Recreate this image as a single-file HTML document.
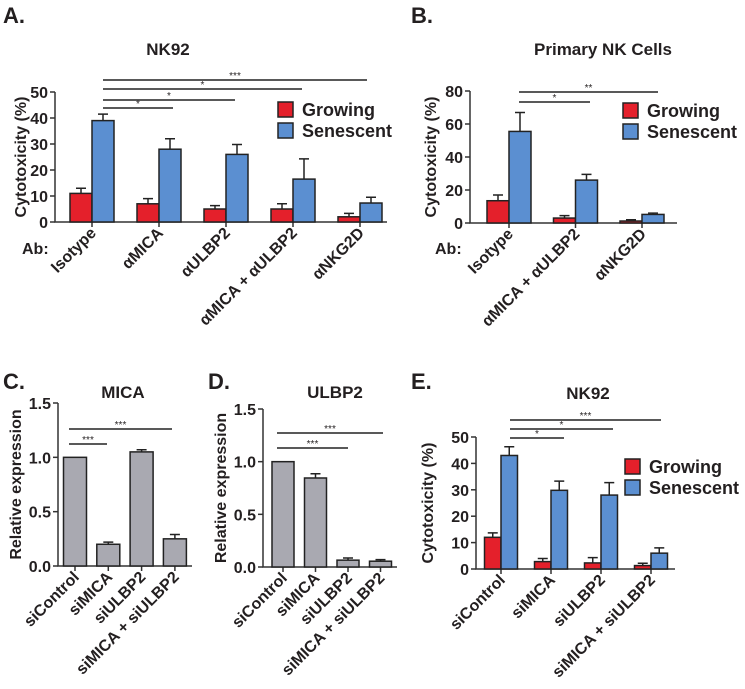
<!DOCTYPE html>
<html><head><meta charset="utf-8"><style>
body{margin:0;background:#fff}
svg{display:block;font-family:"Liberation Sans",Arial,sans-serif;font-weight:bold}
</style></head><body>
<svg id="fig" width="745" height="689" viewBox="0 0 745 689"></svg>
<script>
// Panel A data
const aCats = ["Isotype","\u03B1MICA","\u03B1ULBP2","\u03B1MICA + \u03B1ULBP2","\u03B1NKG2D"];
const aGrow = [11, 7, 5, 5, 2];
const aGrowErr = [13, 9, 6.3, 7, 3.3];
const aSen = [39, 28, 26, 16.5, 7.3];
const aSenErr = [41.5, 32, 29.8, 24.3, 9.5];
const aTicks = [0, 10, 20, 30, 40, 50];
// Panel B data
const bCats = ["Isotype","\u03B1MICA + \u03B1ULBP2","\u03B1NKG2D"];
const bGrow = [13.5, 3, 1.2];
const bGrowErr = [17, 4.5, 2];
const bSen = [55.5, 26, 5.2];
const bSenErr = [67, 29.5, 6];
const bTicks = [0, 20, 40, 60, 80];
// Panel C data
const cCats = ["siControl","siMICA","siULBP2","siMICA + siULBP2"];
const cVals = [1.0, 0.2, 1.05, 0.25];
const cErr = [1.0, 0.22, 1.07, 0.29];
// Panel D data
const dCats = ["siControl","siMICA","siULBP2","siMICA + siULBP2"];
const dVals = [1.0, 0.845, 0.065, 0.055];
const dErr = [1.0, 0.885, 0.085, 0.07];
const relTicks = [0, 0.5, 1.0, 1.5];
// Panel E data
const eCats = ["siControl","siMICA","siULBP2","siMICA + siULBP2"];
const eGrow = [12, 2.8, 2.3, 1.3];
const eGrowErr = [13.7, 4, 4.3, 2.2];
const eSen = [43, 29.8, 28, 6];
const eSenErr = [46.3, 33.3, 32.7, 8];
const eTicks = [0, 10, 20, 30, 40, 50];

const NS = "http://www.w3.org/2000/svg";
const svg = document.getElementById("fig");
const RED = "#e4202b", BLUE = "#5b8fd1", GRAY = "#a9a9b1";
function mk(tag, attrs, parent, text) {
  const e = document.createElementNS(NS, tag);
  for (const k in attrs) e.setAttribute(k, attrs[k]);
  if (text !== undefined) e.textContent = text;
  (parent || svg).appendChild(e);
  return e;
}
function txt(x, y, s, size, anchor, parent, rot) {
  const t = mk("text", {x: x, y: y, "font-size": size, "text-anchor": anchor || "start", fill: "#231f20"}, parent, s);
  if (rot) t.setAttribute("transform", "rotate(" + rot + " " + x + " " + y + ")");
  return t;
}

function panel(p) {
  const g = mk("g", {});
  
  
  const yS = v => p.y0 - v / p.ymax * (p.y0 - p.yTop);
  const L = txt(p.letterX, p.letterY, p.letter, 22, "start", g);
  
  
  const T = txt(p.titleX, p.titleY, p.title, 17, "middle", g);
  
  
  const yt = txt(p.ytX, (p.yTop + p.y0) / 2, p.ytitle, 16, "middle", g, -90);
  
  
  const ax = mk("path", {d: "M" + p.x0 + " " + p.yTop + "V" + p.y0 + "H" + p.xEnd, stroke: "#333", "stroke-width": 1.5, fill: "none"}, g);
  
  
  p.ticks.forEach(v => {
    mk("line", {x1: p.x0 - 5, x2: p.x0, y1: yS(v), y2: yS(v), stroke: "#333", "stroke-width": 1.5}, g);
    const tl = txt(p.x0 - 7, yS(v) + 6, p.fmt ? p.fmt(v) : String(v), 16, "end", g);
    
    
  });
  p.cats.forEach((c, i) => {
    const cx = p.c0 + i * p.step;
    mk("line", {x1: cx, x2: cx, y1: p.y0, y2: p.y0 + 5, stroke: "#333", "stroke-width": 1.5}, g);
    const lx = cx + 5, ly = p.y0 + 12;
    const xl = txt(lx, ly, c, 16, "end", g, -45);
    
    
    p.series.forEach((s, k) => {
      const x = p.series.length === 2 ? (k === 0 ? cx - p.w : cx) : cx - p.w / 2;
      const v = s.vals[i], e = s.err[i];
      const mx = x + p.w / 2;
      if (e > v) {
        const eb = mk("path", {d: "M" + mx + " " + yS(v) + "V" + yS(e) + "M" + (mx - 5) + " " + yS(e) + "H" + (mx + 5), stroke: "#222", "stroke-width": 1.5, fill: "none"}, g);
        
        
      }
      const r = mk("rect", {x: x, y: yS(v), width: p.w, height: p.y0 - yS(v), fill: s.color, stroke: "#222", "stroke-width": 1.5}, g);
      
      
    });
  });
  p.sig.forEach(s => {
    const sl = mk("line", {x1: s[0], x2: s[1], y1: s[2], y2: s[2], stroke: "#222", "stroke-width": 1.5}, g);
    
    
    const st = txt((s[0] + s[1]) / 2, s[2] - 1, s[3], 10, "middle", g);
    st.setAttribute('font-weight', 'normal');
    
    
  });
  if (p.legend) {
    const [lx, ly] = p.legend;
    const lg = mk("g", {}, g);
    
    
    mk("rect", {x: lx, y: ly, width: 15, height: 15, fill: RED, stroke: "#222", "stroke-width": 1.5}, lg);
    mk("rect", {x: lx, y: ly + 21, width: 15, height: 15, fill: BLUE, stroke: "#222", "stroke-width": 1.5}, lg);
    const g1 = txt(lx + 24, ly + 14, "Growing", 18, "start", lg);
    
    
    const g2 = txt(lx + 24, ly + 35, "Senescent", 18, "start", lg);
    
    
  }
  if (p.ab) {
    const ab = txt(p.ab[0], p.ab[1], "Ab:", 16, "start", g);
    
    
  }
}
const f1 = v => v.toFixed(1);

panel({name: "panel-a", letter: "A.", letterX: 3, letterY: 23, title: "NK92", titleX: 168, titleY: 55,
  ytitle: "Cytotoxicity (%)", ytX: 26, x0: 55, xEnd: 387, y0: 222, yTop: 92, ymax: 50, ticks: aTicks,
  cats: aCats, c0: 92, step: 67, w: 22,
  series: [{key: "growing", vals: aGrow, err: aGrowErr, color: RED}, {key: "senescent", vals: aSen, err: aSenErr, color: BLUE}],
  sig: [[103, 367, 80, "***"], [103, 302, 89, "*"], [103, 235, 100, "*"], [103, 173, 108, "*"]],
  legend: [278, 102], ab: [22, 254]});

panel({name: "panel-b", letter: "B.", letterX: 411, letterY: 23, title: "Primary NK Cells", titleX: 603, titleY: 55,
  ytitle: "Cytotoxicity (%)", ytX: 436, x0: 470, xEnd: 677, y0: 223, yTop: 91, ymax: 80, ticks: bTicks,
  cats: bCats, c0: 509, step: 66.5, w: 22,
  series: [{key: "growing", vals: bGrow, err: bGrowErr, color: RED}, {key: "senescent", vals: bSen, err: bSenErr, color: BLUE}],
  sig: [[519, 658, 92, "**"], [519, 590, 102, "*"]],
  legend: [623, 103], ab: [435, 254]});

panel({name: "panel-c", letter: "C.", letterX: 3, letterY: 389, title: "MICA", titleX: 123, titleY: 398,
  ytitle: "Relative expression", ytX: 21, x0: 58, xEnd: 192, y0: 566, yTop: 403, ymax: 1.5, ticks: relTicks, fmt: f1,
  cats: cCats, c0: 75, step: 33.3, w: 23,
  series: [{key: "mica", vals: cVals, err: cErr, color: GRAY}],
  sig: [[69, 172, 429, "***"], [69, 107, 444, "***"]]});

panel({name: "panel-d", letter: "D.", letterX: 208, letterY: 389, title: "ULBP2", titleX: 335, titleY: 398,
  ytitle: "Relative expression", ytX: 226, x0: 263, xEnd: 397, y0: 567, yTop: 409, ymax: 1.5, ticks: relTicks, fmt: f1,
  cats: dCats, c0: 283, step: 32.5, w: 22,
  series: [{key: "ulbp2", vals: dVals, err: dErr, color: GRAY}],
  sig: [[277, 383, 433, "***"], [277, 348, 448, "***"]]});

panel({name: "panel-e", letter: "E.", letterX: 411, letterY: 389, title: "NK92", titleX: 588, titleY: 399,
  ytitle: "Cytotoxicity (%)", ytX: 433, x0: 476, xEnd: 675, y0: 569, yTop: 437, ymax: 50, ticks: eTicks,
  cats: eCats, c0: 501, step: 50, w: 16.5,
  series: [{key: "growing", vals: eGrow, err: eGrowErr, color: RED}, {key: "senescent", vals: eSen, err: eSenErr, color: BLUE}],
  sig: [[510, 661, 420, "***"], [510, 613, 429, "*"], [510, 564, 438, "*"]],
  legend: [625, 459]});
</script>
</body></html>
